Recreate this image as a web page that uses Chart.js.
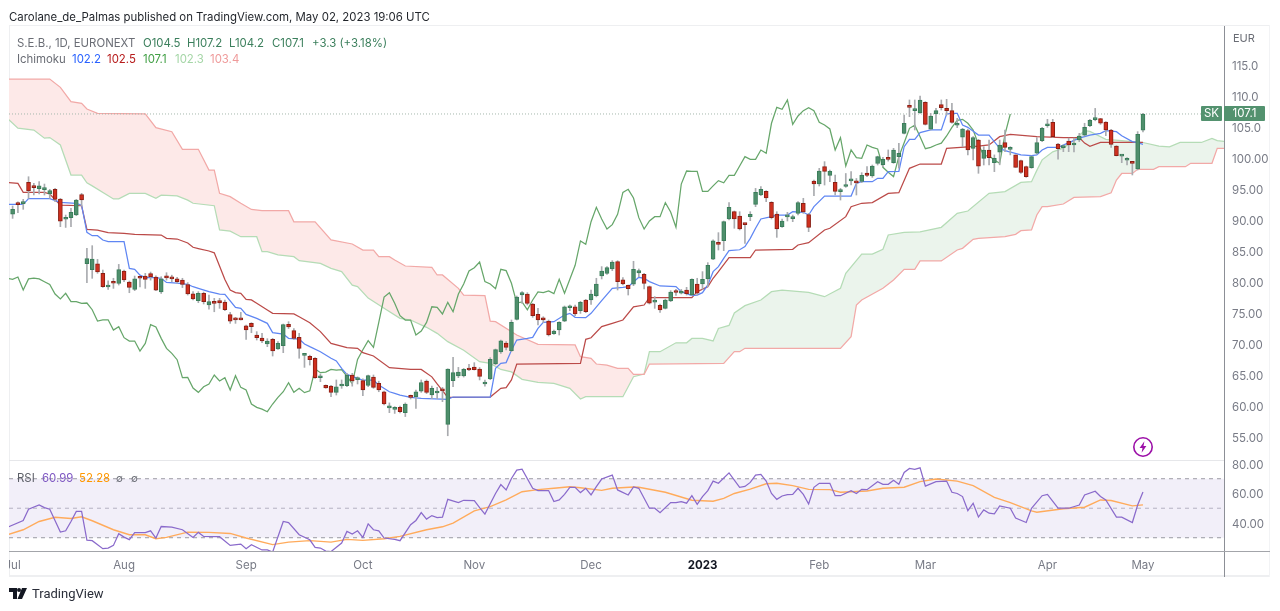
<!DOCTYPE html>
<html><head><meta charset="utf-8">
<script src="https://cdn.jsdelivr.net/npm/chart.js@4"></script>
<style>
html,body{margin:0;padding:0;background:#fff;width:1280px;height:611px;overflow:hidden;font-family:Inter,Roboto,sans-serif}
.abs{position:absolute;white-space:nowrap}
#wrapA{position:absolute;left:0;top:0;width:1280px;height:611px}
#wrapB{position:absolute;left:9px;top:0;width:1271px;height:611px;overflow:hidden}
canvas{display:block}
.t{font-size:11.4px;line-height:16px}
</style></head><body>
<div class="abs" style="left:9px;top:25px;width:1261px;height:552px;border:1px solid #eeeff1;box-sizing:border-box;border-width:1px 0 2px 1px"></div>
<div class="abs" style="left:1269px;top:25px;width:1px;height:552px;background:#f2f3f5"></div>
<div id="wrapA"><canvas id="priceChart" width="1280" height="611"></canvas></div>
<div id="wrapB"><canvas id="rsiChart" width="1271" height="611"></canvas></div>
<div class="abs" style="left:1224px;top:26px;width:1px;height:551px;background:#8c8f96"></div>
<div class="abs" style="left:9px;top:551px;width:1261px;height:1px;background:#a3a5aa"></div>
<div class="abs" style="left:9px;top:460px;width:1215px;height:1px;background:#e6e7ea"></div>

<div class="abs t" style="left:9px;top:9px;color:#1f2329">Carolane_de_Palmas published on TradingView.com, May 02, 2023 19:06 UTC</div>
<div class="abs t" style="left:17px;top:35px;color:#6a6d75">S.E.B., 1D, EURONEXT</div>
<div class="abs t" style="left:143px;top:35px;color:#3b7f5c">O104.5</div>
<div class="abs t" style="left:187px;top:35px;color:#3b7f5c">H107.2</div>
<div class="abs t" style="left:229px;top:35px;color:#3b7f5c">L104.2</div>
<div class="abs t" style="left:272px;top:35px;color:#3b7f5c">C107.1</div>
<div class="abs t" style="left:312px;top:35px;color:#3b7f5c">+3.3 (+3.18%)</div>
<div class="abs t" style="left:17px;top:51px;color:#6a6d75">Ichimoku</div>
<div class="abs t" style="left:72px;top:51px;color:#2962ff">102.2</div>
<div class="abs t" style="left:107px;top:51px;color:#b71c1c">102.5</div>
<div class="abs t" style="left:143px;top:51px;color:#43a047">107.1</div>
<div class="abs t" style="left:175px;top:51px;color:#a5d6a7">102.3</div>
<div class="abs t" style="left:210px;top:51px;color:#ef9a9a">103.4</div>
<div class="abs" style="left:1233px;top:31px;font-size:11px;line-height:14px;color:#6a6d75">EUR</div>

<div class="abs" style="left:1201px;top:106px;width:21px;height:15px;background:#53926f;color:#fff;font-size:11.5px;line-height:15px;text-align:center;border-radius:1px">SK</div>
<div class="abs" style="left:1224px;top:106px;width:41px;height:15px;background:#53926f;color:#fff;font-size:11.5px;line-height:15px;text-align:center;border-radius:1px">107.1</div>

<div class="abs t" style="left:17px;top:470px;color:#5d6068">RSI</div>
<div class="abs t" style="left:42px;top:470px;color:#7e57c2">60.99</div>
<div class="abs t" style="left:79px;top:470px;color:#ff9800">52.28</div>
<div class="abs" style="left:116px;top:470px;font-size:10px;line-height:16px;color:#6a6d75">∅</div>
<div class="abs" style="left:131px;top:470px;font-size:10px;line-height:16px;color:#6a6d75">∅</div>

<svg class="abs" style="left:1132px;top:436px" width="22" height="22" viewBox="0 0 22 22">
<circle cx="11" cy="11" r="9.2" fill="#fff" stroke="#9c10a8" stroke-width="1.6"/>
<path d="M12.4 5.2 7.6 12h2.9l-.9 4.8 4.8-6.8h-2.9z" fill="#9c10a8"/></svg>
<svg class="abs" style="left:9px;top:588px" width="20" height="12" viewBox="0 0 20 12">
<path d="M0 0h8v11H4V4H0zM10 4a2 2 0 1 0 0-4 2 2 0 0 0 0 4zM13 0h5l-5 11H8.5z" fill="#131722"/></svg>
<div class="abs" style="left:32px;top:586px;font-family:Roboto,sans-serif;font-size:13px;line-height:16px;color:#2a2e39">TradingView</div>

<script>
// candles, index 0 = 1 Jul 2022, index 213 = 2 May 2023
const opens=[90.96,92.56,92.64,96.07,95.3,95.05,94.9,94.19,94.94,93.38,90.12,90.37,90.8,94.08,
82.95,81.98,82.95,81.39,79.2,79.87,79.78,81.77,80,78.81,80.85,80.96,81.34,80.8,78.4,81,80.6,80.5,80.3,79.6,
78.1,76.99,78.17,76.29,76.77,76.99,76.77,74.73,73.95,74,72.95,73.33,71.45,70.96,70,70.75,69.19,69.73,73.17,72.15,71.07,68.17,68,67.7,64.55,63.33,
63.2,62.2,63.22,63.27,65,64.25,64.08,63.33,64.67,63.65,62.3,59.7,59.45,59.8,58.92,61.45,61.5,62.4,64,61.77,62.1,62.6,57.04,64.08,64.84,64.84,66.13,66.29,65.96,63.55,
64.35,66.77,68.71,70.16,68.92,73.98,77.9,78.06,76.45,74.78,74.24,73.7,71.66,72.26,73.7,75.85,76,75.37,77.1,77.1,77.8,80.97,81.4,82.1,83.28,80.33,79.46,79.63,81.45,81.24,
79.25,76.75,76.24,75.75,76.94,78.35,78.18,78.71,77.9,79.68,79.68,80.49,83.7,86.12,86.67,90.16,91.34,90.64,89.4,90.54,92.53,94.03,94.62,92.85,90.97,88.92,90.5,90.2,91.07,92.69,
90.86,96.29,95.8,98.6,97.2,96.07,94.58,95.4,96.3,96.05,96.24,97.58,97.1,99.14,98.92,99.95,99.25,100.22,103.98,108.2,107.64,107.31,108.98,104.63,107.1,108.6,108,107.64,105.28,103.34,
104.41,101.56,102.9,99.95,101.29,99.25,100.92,102.47,101.4,100.5,99.57,98.6,98.44,100.76,102.8,105.2,105.75,102.26,101.68,102.74,102.1,102.9,103.7,105.22,106.2,106.35,105.8,104.52,101.94,100.3,99.64,99.4,98.23,104.5];
const highs=[92.26,92.95,93.33,96.98,95.91,96.18,95.8,94.94,95.1,93.49,
90.8,91.88,93.33,94.3,85.43,85.86,83.65,81.93,80.2,80.6,
82.84,81.93,80.16,80.96,80.96,81.39,81.6,81,80.85,81.5,
81.1,80.75,80.6,79.9,78.44,78.44,78.38,77.9,77.36,77.36,
77.1,75.1,74.3,75.1,73.06,73.44,71.99,71.72,70.86,70.91,
70.37,73.22,73.6,72.5,71.72,68.5,68.2,67.8,65.16,63.4,
63.33,64.2,64.2,65.27,65.27,64.7,64.4,65,65,64,
62.4,60.5,59.9,60,60.5,61.77,62.58,64.2,64.2,63.2,
63,63,66,67.85,66.23,66.07,66.72,66.99,66.2,64.2,
67.8,69.19,70.64,70.37,73.87,77.74,78.44,78.28,76.56,75.75,
74.4,73.87,72.26,73.6,76.13,76.29,76.29,76.88,77.2,78.7,
80.6,82.48,82.48,83.44,83.44,80.7,79.52,83.34,82.1,81.4,
79.36,77.64,76.45,77.26,78.6,78.8,78.8,79.14,80.5,80.6,
81.67,83.12,86.8,87.96,89.84,92.8,91.45,91.34,89.46,91.34,
95.1,95.38,94.73,92.96,91.34,90.16,91.24,90.8,92.96,93.5,
91.07,96.45,98.33,99.41,98.06,97.26,95.1,97.5,97.8,96.7,
97.63,98.6,98.87,100.3,100.1,101.3,101.56,102.37,106.94,109.36,
109.36,110,109.09,107.2,108,109.36,109.46,108.82,106.4,104.79,
104.68,103.44,103,101.83,102.9,100.5,102.9,104.52,101.83,100.5,
99.68,98.7,100.33,103.3,104.95,106.24,106.24,102.37,102.1,103.2,
103.2,103.98,105.6,106.24,108,106.4,105.86,104.62,102,100.5,
100.05,99.43,104.25,107.2];
const lows=[90.26,91.18,91.72,93.49,94.03,94.19,94.03,93.49,92.95,88.92,
88.8,88.92,90.7,92.25,79.89,80.59,81.4,79.13,78.8,78.97,
79.51,80.05,78.27,78.6,79.2,78.97,80.3,78.6,78.15,80.3,
80.05,79.8,79.1,77.9,77.1,76.66,76.45,75.6,75.2,75.75,
75.37,73.33,73.33,73.87,70.75,71.82,70.64,70.2,69.57,68.06,
69.14,68.6,72.5,70.75,67.7,66.23,66.6,64.46,63.92,62.85,
61.5,61.77,62.85,63.1,63.2,63.55,61.66,63.1,62.85,62.3,
60.16,58.92,58.8,58.9,58.3,61.13,59.6,62.2,62,61.2,
61.2,60.7,55.2,63.12,64.57,64.67,65.7,65.8,64.2,63.2,
64.24,66.66,68.5,69.03,68.76,73.87,76.56,76.29,74.3,73.06,
73.44,71.29,71.56,71.45,73.6,75.37,74.57,74.94,75.05,76.4,
77.6,80.49,81.24,81.83,78.71,79.52,77.9,79.41,80.86,78.87,
76.45,75.75,75.1,75.65,76.83,77.85,78.07,77.9,77.85,77.9,
78.82,79.25,83.6,85.16,85.05,90,88.66,88.39,86.24,89.89,
92.15,93.92,92.96,90.16,87.2,88.82,89.84,89.73,90.8,91.07,
88.12,93.92,95.48,95.64,96.18,94.03,93.22,95.27,95.64,94.03,
96.02,97,96.88,98.87,98.6,99.5,99.14,98.34,103.87,106.67,
104.52,107.2,105.32,104.52,105.6,107.74,106.94,105.6,104.9,101.83,
100.5,99.68,97.53,98.87,98.87,97.8,98.9,101.02,100.5,98.5,
97.53,96.88,98.34,100.65,102.64,104.95,103.33,99.8,101.02,101.02,
101,102.64,103.55,105.05,106,105.43,103.6,101.72,100.33,99.25,
98.87,97.26,98.07,104.2];
const closes=[91.72,92.48,92.72,94.67,95.22,95.53,94.98,94.73,93.33,89.83,90.2,91.23,93.22,93.22,
83.76,83.7,81.61,79.24,79.3,79.8,82,80.32,79.13,80.53,80.6,80.42,80.8,78.7,80.5,80.64,80.5,80.05,79.6,78.06,
77.26,78.17,76.83,76.83,76.56,76.61,75.53,73.7,73.9,73.9,72.26,72.8,71.02,70.48,70.48,68.87,70.1,73.12,72.74,70.91,69.3,68.49,67.47,64.57,64.6,62.9,
62.2,63.1,63.54,65,64.03,64.57,62.58,64.89,63,62.58,60.32,59.78,59.5,59.08,60.32,61.4,62.3,63.76,62.2,62.85,62.15,62.45,65.96,65.37,65.48,65.9,65.8,65.86,64.78,63.6,
67.52,69.08,70.53,69.46,73.49,77.58,78.28,76.56,74.57,73.87,73.87,71.45,72.1,73.49,76,75.9,74.84,76.72,75.2,78.06,79.68,81.78,82.31,83.23,80.06,79.68,78.93,82.05,81.83,79.79,
76.6,76.8,75.5,77.1,78.39,78.3,78.55,78.12,80.43,78.18,80.43,82.69,86.62,86.07,89.73,92.04,90.16,88.55,89.25,90.91,94.46,94.95,93.55,90.38,88.55,89.84,90.54,90.54,92.8,91.29,
88.82,95.8,97.9,97.85,97.85,94.62,94.62,95.5,96.35,96,97.2,97.2,98.7,100.21,99.78,99.78,101.29,100.76,105.6,108.17,107.85,109.36,105.43,106.78,107.64,108.12,107.64,105.75,105.32,104.68,
101.29,103.28,98.7,101.29,100.06,99.95,102.1,101.72,101.45,98.5,97.69,97,100.22,102.47,104.79,105.3,103.44,101.5,101.72,102.1,102.4,103.55,104.95,106.08,106.24,105.6,104.52,102.2,100.38,100.33,99.68,99.14,103.82,107.1];

// Ichimoku lines, bar numbers where the line bends and the price there
const tenkanBars=[-1,2,3,7,9,12,13,14,15,16,17,18,21,22,23,24,25,27,28,29,31,33,34,35,37,39,40,42,43,44,46,48,49,51,52,54,55,56,58,60,61,62,63,65,66,68,69,71,72,73,75,77,82,83,90,91,92,93,94,95,97,98,99,100,102,104,105,106,108,109,111,113,115,116,118,119,120,122,125,126,128,129,130,131,132,133,134,135,137,138,139,140,141,143,144,146,147,149,150,151,153,158,159,160,162,163,164,165,167,168,169,170,171,173,175,176,177,178,179,180,182,184,186,187,190,192,193,194,195,197,201,203,205,206,208,209,211,212,213];
const tenkanValues=[92.52,92.52,93.44,93.44,92.85,92.68,92.4,88,87.47,87.47,86.77,86.5,86.5,82.2,82.04,81.1,80.7,80.7,80.6,79.94,79.8,79.6,79.24,78.98,78.44,78.06,78,75.9,75.75,74.78,74.14,73.33,71.83,71.6,70.91,70.8,70,69.57,68.76,67.7,67.26,66.07,65.1,64.46,64.19,64.19,63.38,62.3,62.04,61.77,61.4,61.23,61.07,61.45,61.45,66.07,66.88,67,69,70.64,70.9,71.07,72.52,73.49,73.6,74.67,74.94,74.3,74.24,74.95,77,78.98,79.14,79.25,80.76,80.6,80.06,79.36,79.25,78.44,77.8,77.9,78.28,79.52,81.67,82.48,83.82,85.06,85.2,85.7,87.04,88.66,90.16,90.54,90.8,90.8,91.34,91.24,90.8,92.15,93.87,93.87,95.91,96.18,96.18,96.72,96.72,97.8,97.85,101.83,103,103,104.09,104.52,104.52,107.1,107.2,107.2,105.32,104.95,103.7,103.7,101.56,101.2,100.5,100.4,100.5,101.29,101.72,101.72,103.2,103.7,103.98,104.41,104.25,103.6,102.64,102.47,102.2];
const kijunBars=[-1,1,2,6,7,9,13,14,16,18,21,23,28,29,31,33,34,35,37,38,40,41,42,43,44,45,46,48,49,53,54,56,58,60,63,65,66,68,71,75,77,79,80,81,82,90,92,93,94,95,107,108,109,111,113,115,117,119,120,128,129,131,132,133,135,139,140,147,148,150,153,154,157,158,160,162,165,167,169,171,175,176,182,184,186,188,193,198,201,202,203,205,213];
const kijunValues=[96.07,95.9,94.46,94.46,94.19,92.4,92.3,88.49,88.38,87.95,87.85,87.68,87.57,87.04,86.93,86.3,85.6,85.4,85,84.7,80.4,78.7,78.28,78.17,77.2,77.1,76.56,75.48,74.94,74.84,74.4,73.44,72,70.1,69.4,69.3,68.6,68.06,66.18,65.9,65.9,64.7,63.55,62.47,61.4,61.45,62.85,62.95,64.2,66.77,66.88,70.75,71,72.8,73.33,73.87,76,76.29,77.47,77.47,78.44,79.25,80.6,81.67,83.92,83.92,85.16,85.27,85.97,86.34,88.39,88.66,90.54,92.15,92.7,92.8,94.3,94.4,98.33,99.03,99.03,101.56,101.9,102.1,103.44,103.82,103.44,103.3,103.3,102.4,101.9,102.5,102.5];
const chikouFirstBar=-1;
const chikouValues=[80.6,80.42,80.8,78.7,80.5,80.64,80.5,80.05,79.6,78.06,
77.26,78.17,76.83,76.83,76.56,76.61,75.53,73.7,73.9,73.9,72.26,72.8,71.02,70.48,70.48,68.87,70.1,73.12,72.74,70.91,69.3,68.49,67.47,64.57,64.6,62.9,
62.2,63.1,63.54,65,64.03,64.57,62.58,64.89,63,62.58,60.32,59.78,59.5,59.08,60.32,61.4,62.3,63.76,62.2,62.85,62.15,62.45,65.96,65.37,65.48,65.9,65.8,65.86,64.78,63.6,
67.52,69.08,70.53,69.46,73.49,77.58,78.28,76.56,74.57,73.87,73.87,71.45,72.1,73.49,76,75.9,74.84,76.72,75.2,78.06,79.68,81.78,82.31,83.23,80.06,79.68,78.93,82.05,81.83,79.79,
76.6,76.8,75.5,77.1,78.39,78.3,78.55,78.12,80.43,78.18,80.43,82.69,86.62,86.07,89.73,92.04,90.16,88.55,89.25,90.91,94.46,94.95,93.55,90.38,88.55,89.84,90.54,90.54,92.8,91.29,
88.82,95.8,97.9,97.85,97.85,94.62,94.62,95.5,96.35,96,97.2,97.2,98.7,100.21,99.78,99.78,101.29,100.76,105.6,108.17,107.85,109.36,105.43,106.78,107.64,108.12,107.64,105.75,105.32,104.68,
101.29,103.28,98.7,101.29,100.06,99.95,102.1,101.72,101.45,98.5,97.69,97,100.22,102.47,104.79,105.3,103.44,101.5,101.72,102.1,102.4,103.55,104.95,106.08,106.24,105.6,104.52,102.2,100.38,100.33,99.68,99.14,103.82,107.1];
const senkouABars=[-1,1,4,6,7,9,11,13,14,15,19,20,22,25,27,28,31,33,34,38,39,41,43,46,47,48,50,53,54,58,60,62,64,65,67,70,73,75,78,80,82,85,88,90,92,94,96,99,102,105,107,108,115,117,119,120,122,125,127,128,130,132,133,135,136,138,141,143,145,150,153,156,157,160,162,164,165,168,171,175,178,180,184,187,190,192,193,194,196,198,200,202,203,206,209,213,216,218,220,224,226,227,229];
const senkouAValues=[106.4,104.8,104.5,103.2,103.3,102.1,97.25,97.25,96,95.5,93.4,93.4,94.3,94.3,93.5,94,93.9,93.2,92.7,92.3,88.39,88.2,87.3,87.3,84.9,84.9,84.36,84.09,83.44,83,82.2,81.67,79.5,79.25,77.4,75.75,74.14,73.87,72.69,71.72,70.38,69,67.15,66.88,65.9,65.5,64.3,63.8,63.65,62.85,61.13,61.5,61.5,64.73,65.16,68.76,68.76,70.2,70.2,70.9,70.9,70.5,72.5,73,75,76.18,77.1,78.44,78.7,78.33,77.63,78.98,81.4,84.5,84.5,85.27,87.58,88,88.1,88.82,91.07,91.45,94.3,94.57,96.07,96.18,98,99.7,101,101.6,102.9,104.4,104.3,103,102.8,102.5,101.93,101.8,102.5,102.5,103.17,102.8,102.6];
const senkouBBars=[-1,7,9,11,13,14,16,25,27,30,32,35,37,38,39,41,43,45,47,52,53,57,60,64,66,68,69,71,72,74,79,80,81,84,85,89,90,91,95,99,106,107,109,110,112,114,116,117,119,120,134,136,137,138,156,158,159,160,164,166,168,170,171,175,178,179,181,182,187,189,190,192,193,194,195,198,200,205,207,208,209,211,212,215,216,221,222,226,227,229];
const senkouBValues=[112.74,112.74,111.4,109.08,108.8,107.9,107.2,107.1,104.9,104.24,101.4,101.4,98.06,98.06,94.3,93.76,92.7,91.7,91.5,91.5,89.7,89.7,86.78,86.13,85.16,85.16,84.09,84.09,83.55,82.58,82.37,81.13,81.13,78.98,77.9,77.8,73.7,73.6,71.45,69.95,69.84,67.96,67.69,66.77,66.6,66.07,66.07,65.1,65.1,66.77,66.88,68.76,68.76,69.3,69.3,71.18,76.29,77.1,79,80.32,82.04,82.04,83.39,83.39,85.16,85.43,86.88,87.04,87.31,87.69,88.28,88.39,90.8,92.15,92.15,92.58,93.65,93.76,94.4,96.45,97.5,97.5,98.17,98.17,98.6,98.6,99.14,99.14,101.56,101.56];
const lastPrice=107.1;

// RSI pane
const rsiBars=[-1,2,3,5,6,7,9,10,11,12,13,14,15,17,18,19,20,21,22,23,25,26,27,28,30,32,34,35,36,39,41,43,44,45,47,48,49,51,52,54,56,57,58,59,60,62,63,64,65,66,67,68,69,70,72,73,75,76,77,78,79,80,81,82,84,85,87,88,89,91,92,93,94,95,96,98,99,101,102,103,104,105,106,107,108,109,110,111,113,114,116,117,118,120,121,122,124,125,126,127,128,129,130,131,132,133,135,137,138,139,140,141,142,143,144,145,146,147,148,149,150,151,152,154,155,156,158,159,160,161,163,164,165,166,167,168,169,170,171,172,174,176,177,178,179,180,181,182,183,184,185,186,188,189,191,192,194,195,197,199,201,202,204,205,206,208,209,211,212,213];
const rsiValues=[37,41.7,49.3,52.2,50.4,49.3,33.8,34.7,41,47.8,47.8,28.4,28,22.6,23,24.8,32.7,30.4,28.7,33.4,33.4,34.7,29.8,37.6,37.2,35.4,30.2,33.6,30.9,30.7,24.8,25.7,22.6,25.3,21.7,21.7,20.3,41,40.3,32,28.6,23.5,23,21,20.6,26.4,34.3,32.5,34.7,30.2,39.4,35.4,34.7,29.8,28.9,28,38.8,41.7,47,42.6,45,43.7,43.9,56,53.8,55.4,55.2,50.4,46,60,66,62.4,70.2,75.8,76.5,63.5,62,62,54.5,55.6,59.4,64.2,64.2,60.6,63.5,59,64.6,69.8,72.5,62.4,59,64.4,63.5,50,50,47,53.8,53.8,54.5,53.4,58.5,52.7,57.9,61.9,68.4,66.9,74,64.2,64.8,67.5,72.5,72.9,68.4,60,56,58.3,59.2,59.4,63.5,59.4,52.9,64.2,66.9,66.9,58.5,58.5,61.9,60,62.8,62.6,68,66.2,66.2,69,66.2,74.3,77,76.3,77.4,65,68,68.4,60.8,60,57.9,48.4,53.4,44,48.9,46.6,46.2,51.6,50,43.3,40.3,50,58.5,59.4,50,50,52.2,59,61.5,58,55.6,44,44,40.3,52.2,60.99];
const rsiMaBars=[-1,2,5,8,11,13,15,19,22,25,27,29,33,37,41,44,49,52,56,60,63,66,70,73,78,81,83,87,90,93,96,99,102,105,107,111,113,117,118,123,128,132,134,136,139,142,144,147,150,154,156,161,164,168,171,174,178,181,185,188,192,193,198,202,205,207,211,213];
const rsiMaValues=[32,35.4,41,43.9,43,44.2,41.5,35.4,32,32,29.3,30.2,33.8,33.6,32.9,29.8,25.3,27,28,27,28.9,28.2,29.3,30.9,35.4,37.4,39.9,48.2,51.1,55.6,61.2,62.6,63.5,64.6,63.9,62.1,63.5,64.4,64.2,60.8,55.4,54.7,56.7,60,63,66.6,66.9,65.3,62.8,62.6,60.8,61.7,63.5,64.2,68,69.8,68.4,65.3,57.4,53.8,48.2,47.3,49.6,50.7,55.6,55.2,51.6,52.28];
const rsiLevels=[70,50,30];

// ticks
const priceTicks=[55,60,65,70,75,80,85,90,95,100,105,110,115];
const rsiTicks=[40,60,80];
const monthBars=[0,21,44,66,87,109,130,152,172,195,213];
const monthLabels=['Jul','Aug','Sep','Oct','Nov','Dec','2023','Feb','Mar','Apr','May'];

const xMin=-0.68, xMax=228.27;
const pairs=(bars,vals)=>bars.map((b,i)=>({x:b,y:vals[i]}));
const bars=closes.map((_,i)=>i);
const isUp=i=>closes[i]>=opens[i];
const tickFont={family:'Inter,Roboto,sans-serif',size:11.5};
const tickColor='#787b86';

const line=(data,color,order,extra)=>Object.assign({type:'line',data,borderColor:color,borderWidth:1.25,pointRadius:0,tension:0,fill:false,order},extra||{});

new Chart(document.getElementById('priceChart'),{
 data:{datasets:[
  {type:'bar',data:bars.map(i=>({x:i,y:[Math.min(opens[i],closes[i]),Math.max(opens[i],closes[i])]})),
   backgroundColor:bars.map(i=>isUp(i)?'#4f8f6c':'#cf2f1e'),
   borderColor:bars.map(i=>isUp(i)?'#3a7d5a':'#8a1f14'),
   borderWidth:1,borderSkipped:false,barThickness:4,minBarLength:2,grouped:false,order:0},
  {type:'bar',data:bars.map(i=>({x:i,y:[lows[i],highs[i]]})),
   backgroundColor:'#a9abaf',borderWidth:0,barThickness:1,grouped:false,order:1},
  line(pairs(tenkanBars,tenkanValues),'#5f86f3',2),
  line(pairs(kijunBars,kijunValues),'#bb4a48',3),
  line(chikouValues.map((v,i)=>({x:chikouFirstBar+i,y:v})),'#66a66a',4),
  line(pairs(senkouABars,senkouAValues),'#b5dcb6',8,{fill:{target:6,above:'#ebf4ec',below:'#fde9e8'}}),
  line(pairs(senkouBBars,senkouBValues),'#f2a9a7',7),
  line([{x:xMin,y:lastPrice},{x:xMax,y:lastPrice}],'#a5b8ad',6,{borderWidth:1,borderDash:[1,2]})
 ]},
 options:{responsive:false,animation:false,events:[],devicePixelRatio:1,
  layout:{padding:{left:9,top:26,bottom:151,right:0}},
  plugins:{legend:{display:false},tooltip:{enabled:false}},
  scales:{
   x:{type:'linear',min:xMin,max:xMax,display:false,offset:false},
   y:{type:'linear',position:'right',min:51.29,max:121.29,
      grid:{display:false,drawTicks:false},border:{display:false},
      afterBuildTicks:s=>{s.ticks=priceTicks.map(v=>({value:v}));},
      afterFit:s=>{s.width=56;s.paddingTop=0;s.paddingBottom=0;},
      ticks:{padding:8,labelOffset:1.5,color:tickColor,font:tickFont,
        callback:v=>v>=105?v.toFixed(1):v.toFixed(2)}}
  }}
});

new Chart(document.getElementById('rsiChart'),{
 data:{datasets:[
  line(pairs(rsiBars,rsiValues),'#8a6acb',0),
  line(pairs(rsiMaBars,rsiMaValues),'#ffab5c',1,{borderWidth:1.4}),
  line([{x:xMin,y:rsiLevels[0]},{x:xMax,y:rsiLevels[0]}],'#9a9ba3',5,{borderWidth:1,borderDash:[4,4],fill:{target:4,above:'#f2eff9',below:'#f2eff9'}}),
  line([{x:xMin,y:rsiLevels[1]},{x:xMax,y:rsiLevels[1]}],'#b5b2c2',4,{borderWidth:1,borderDash:[4,4]}),
  line([{x:xMin,y:rsiLevels[2]},{x:xMax,y:rsiLevels[2]}],'#9a9ba3',4,{borderWidth:1,borderDash:[4,4]})
 ]},
 options:{responsive:false,animation:false,events:[],devicePixelRatio:1,
  layout:{padding:{left:0,top:460,bottom:34,right:0}},
  plugins:{legend:{display:false},tooltip:{enabled:false}},
  scales:{
   x:{type:'linear',min:xMin,max:xMax,offset:false,
      grid:{display:false,drawTicks:false},border:{display:false},
      afterBuildTicks:s=>{s.ticks=monthBars.map(v=>({value:v}));},
      afterFit:s=>{s.height=26;s.paddingLeft=0;s.paddingRight=0;},
      ticks:{autoSkip:false,maxRotation:0,padding:8,includeBounds:false,
        color:c=>c.tick&&c.tick.value===130?'#131722':tickColor,
        font:c=>c.tick&&c.tick.value===130?{family:tickFont.family,size:11.5,weight:'bold'}:tickFont,
        callback:v=>monthLabels[monthBars.indexOf(v)]}},
   y:{type:'linear',position:'right',min:21,max:82.7,
      grid:{display:false,drawTicks:false},border:{display:false},
      afterBuildTicks:s=>{s.ticks=rsiTicks.map(v=>({value:v}));},
      afterFit:s=>{s.width=56;s.paddingTop=0;s.paddingBottom=0;},
      ticks:{padding:8,labelOffset:1.5,color:tickColor,font:tickFont,callback:v=>v.toFixed(2)}}
  }}
});
</script>
</body></html>
